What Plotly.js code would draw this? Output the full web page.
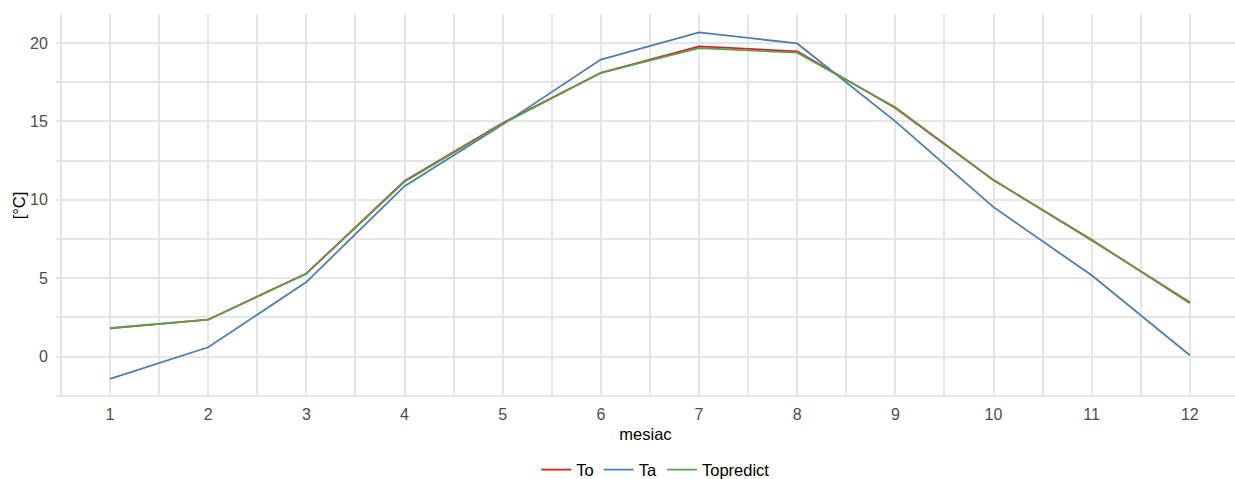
<!DOCTYPE html>
<html>
<head>
<meta charset="utf-8">
<script src="https://cdn.plot.ly/plotly-3.0.1.min.js"></script>
<style>html,body{margin:0;padding:0;background:#fff;}#chart{width:1235px;height:479px;}</style>
</head>
<body>
<div id="chart"></div>
<script>
const months = [1,2,3,4,5,6,7,8,9,10,11,12];
const To = [1.80, 2.35, 5.30, 11.20, 14.90, 18.10, 19.78, 19.47, 15.85, 11.25, 7.45, 3.41];
const Ta = [-1.43, 0.59, 4.75, 10.87, 14.80, 18.94, 20.68, 19.97, 15.00, 9.53, 5.18, 0.08];
const Topredict = [1.82, 2.36, 5.28, 11.15, 14.85, 18.09, 19.68, 19.38, 15.90, 11.27, 7.41, 3.48];

const fam = '"Liberation Sans", Arial, sans-serif';
const mk = (name, y, color) => ({
  type: 'scatter', mode: 'lines', name: name, x: months, y: y,
  line: {color: color, width: 1.8}
});
const data = [
  mk('To', To, '#E41A1C'),
  mk('Ta', Ta, '#4A7FAF'),
  mk('Topredict', Topredict, '#5BA052')
];
const layout = {
  width: 1235, height: 479,
  margin: {l: 56, r: 0, t: 14, b: 82},
  paper_bgcolor: '#fff', plot_bgcolor: '#fff',
  font: {family: fam, size: 16, color: '#4D4D4D'},
  xaxis: {
    range: [0.45, 12.46], tickmode: 'linear', tick0: 1, dtick: 1,
    showgrid: true, gridcolor: '#E6E6E6', gridwidth: 2,
    minor: {tickmode: 'linear', tick0: 0.5, dtick: 0.5, showgrid: true, gridcolor: '#E6E6E6', gridwidth: 2},
    zeroline: false, showline: false,
    ticks: 'outside', ticklen: 3, tickcolor: 'rgba(0,0,0,0)',
    tickfont: {size: 16, color: '#4D4D4D'},
    title: {text: 'mesiac', font: {size: 16.5, color: '#000'}, standoff: 6}
  },
  yaxis: {
    range: [-2.58, 21.85], tickmode: 'linear', tick0: 0, dtick: 5,
    showgrid: true, gridcolor: '#E6E6E6', gridwidth: 2,
    minor: {tickmode: 'linear', tick0: 2.5, dtick: 2.5, showgrid: true, gridcolor: '#E6E6E6', gridwidth: 2},
    zeroline: false, showline: false,
    ticks: 'outside', ticklen: 4, tickcolor: 'rgba(0,0,0,0)',
    tickfont: {size: 16, color: '#4D4D4D'},
    title: {text: '[°C]', font: {size: 16.5, color: '#000'}, standoff: 0}
  },
  showlegend: true,
  legend: {
    orientation: 'h', xref: 'container', yref: 'container',
    x: 0.531, xanchor: 'center', y: 0.019, yanchor: 'middle',
    font: {size: 16.5, color: '#000'}, itemwidth: 30, tracegroupgap: 0
  }
};
Plotly.newPlot('chart', data, layout, {displayModeBar: false, staticPlot: true});
</script>
</body>
</html>
